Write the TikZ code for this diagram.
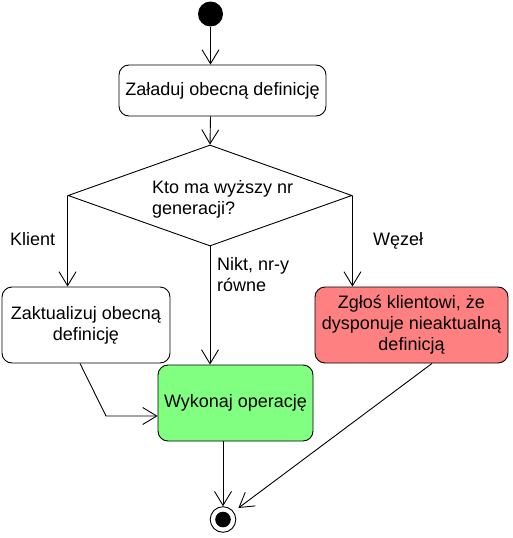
\documentclass[tikz,border=0pt]{standalone}
\usepackage{fontspec}
\setmainfont{Liberation Sans}
\usetikzlibrary{arrows.meta,shapes.geometric,calc}
\definecolor{redfill}{HTML}{FF8080}
\definecolor{greenfill}{HTML}{80FF80}
\begin{document}
\begin{tikzpicture}[x=1pt,y=-1pt,
  every node/.style={font=\fontsize{18}{21}\selectfont, inner sep=0pt},
  act/.style={draw, line width=0.9pt, rounded corners=10pt, align=center},
  flow/.style={line width=0.9pt, -{Straight Barb[length=14pt,width=17pt]}},
  lbl/.style={anchor=north west, align=left}]
\useasboundingbox (0,0) rectangle (513,538);
\node[circle, fill=black, minimum size=25pt] (start) at (210.5,14) {};
\node[act, minimum width=207pt, minimum height=51pt] (load) at (222.5,90.5) {Załaduj obecną definicję};
\node[diamond, draw, line width=0.9pt, minimum width=284pt, minimum height=101pt, aspect=2.81] (dec) at (210,195.5) {};
\node[lbl] (q) at (152,180) {Kto ma wyższy nr\\generacji?};
\node[act, minimum width=168pt, minimum height=76pt] (upd) at (86,325) {Zaktualizuj obecną\\definicję};
\node[act, minimum width=193pt, minimum height=76pt, fill=redfill] (warn) at (411.5,325) {Zgłoś klientowi, że\\dysponuje nieaktualną\\definicją};
\node[act, minimum width=155pt, minimum height=76pt, fill=greenfill] (ok) at (235.5,403) {Wykonaj operację};
\node[circle, draw, line width=0.9pt, fill=white, minimum size=25.6pt] (end) at (223,519.5) {};
\fill (end.center) circle (7.8pt);
\node[anchor=base west] (lk) at (10,245) {Klient};
\node[anchor=base west] (lw) at (373,245) {Węzeł};
\node[lbl] (ln) at (217,257) {Nikt, nr-y\\równe};
\draw[flow] (start) -- (start |- load.north);
\draw[flow] (start |- load.south) -- (dec.north);
\draw[flow] (dec.west) -- (dec.west |- upd.north);
\draw[flow] (dec.east) -- (dec.east |- warn.north);
\draw[flow] (dec.south) -- (dec.south |- ok.north);
\draw[flow] ([xshift=-6pt]upd.south) -- (106,416) -- ([yshift=-13pt]ok.west);
\draw[flow] (end.north |- ok.south) -- (end);
\draw[flow, shorten >=6pt] ([xshift=20.5pt]warn.south) -- (end);
\end{tikzpicture}
\end{document}
